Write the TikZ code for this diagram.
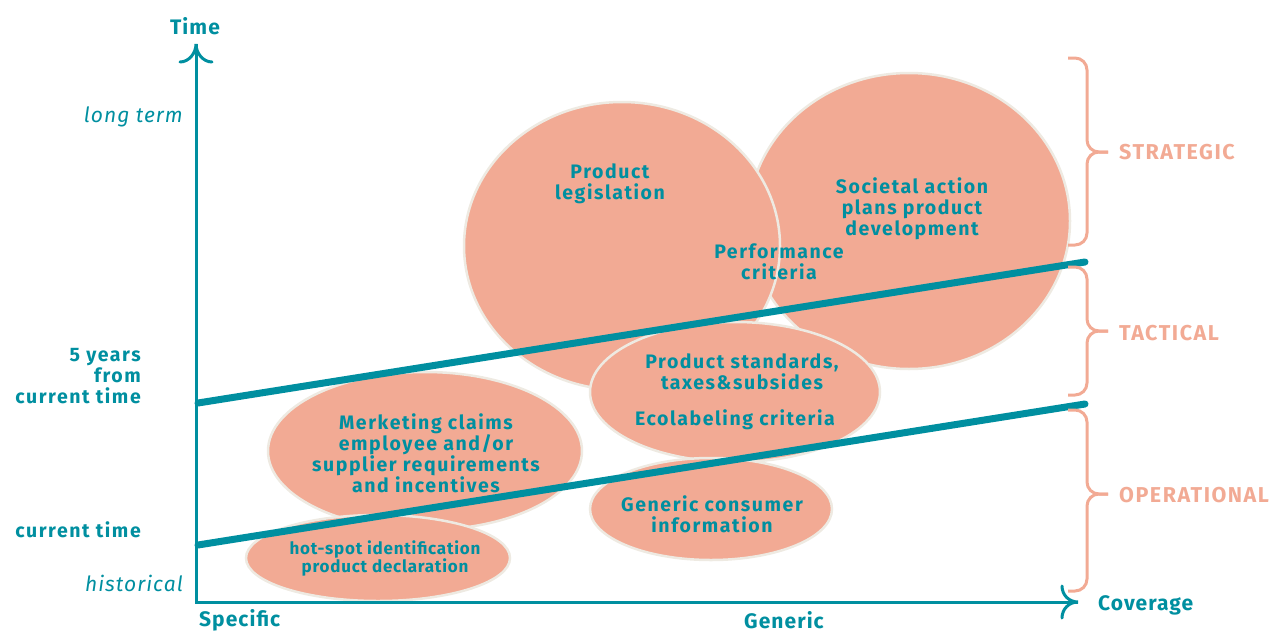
\documentclass[tikz,border=0pt]{standalone}
\usepackage{fontspec}
\setmainfont{Fira Sans}
\usetikzlibrary{shapes.geometric}
\definecolor{tealc}{HTML}{008FA0}
\definecolor{salmon}{HTML}{F2AA94}
\definecolor{rim}{HTML}{EEEAE2}
\begin{document}
\begin{tikzpicture}[x=1pt,y=-1pt,
  blob/.style={ellipse, draw=rim, line width=2.5pt, fill=salmon, inner sep=0pt},
  lbl/.style={text=tealc, font=\bfseries\fontsize{19.5}{21}\selectfont\addfontfeatures{LetterSpace=8}, align=center, inner sep=0pt},
  small/.style={text=tealc, font=\bfseries\fontsize{17}{18}\selectfont\addfontfeatures{LetterSpace=4.5}, align=center, inner sep=0pt},
  axlbl/.style={text=tealc, font=\bfseries\fontsize{21}{21}\selectfont\addfontfeatures{LetterSpace=5}, inner sep=0pt},
  ital/.style={text=tealc, font=\itshape\fontsize{21}{21}\selectfont\addfontfeatures{LetterSpace=5}, inner sep=0pt, anchor=east},
  axisline/.style={draw=tealc, line width=3pt},
  band/.style={draw=tealc, line width=7pt, line cap=round},
  bracestyle/.style={draw=salmon, line width=3pt, rounded corners=12pt},
  tier/.style={text=salmon, font=\bfseries\fontsize{21.5}{22}\selectfont\addfontfeatures{LetterSpace=7}, anchor=west, inner sep=0pt}]
\useasboundingbox (0,0) rectangle (1277,632);

% ellipses
\node[blob, minimum width=322pt, minimum height=296pt] (soc) at (909,221) {};
\node[blob, minimum width=316pt, minimum height=288pt] (leg) at (622,246) {};
\node[blob, minimum width=290pt, minimum height=140pt] (std) at (735,392) {};
\node[blob, minimum width=314pt, minimum height=158pt] (mkt) at (425,451) {};
\node[blob, minimum width=242pt, minimum height=102pt] (gen) at (711,509) {};
\node[blob, minimum width=264pt, minimum height=86pt] (hot) at (378,558) {};

% bands
\coordinate (u1) at (198,403); \coordinate (u2) at (1085,262);
\coordinate (l1) at (198,545); \coordinate (l2) at (1085,404);
\draw[band] (u1) -- (u2);
\draw[band] (l1) -- (l2);

% axes
\coordinate (o) at (196,602);
\coordinate (ytip) at (196,44);
\coordinate (xtip) at (1078,602);
\draw[axisline] (ytip) -- (o) -- (xtip);
\draw[axisline, line cap=round] (180,62) .. controls (189,62) and (196,53) .. (ytip) .. controls (196,53) and (203,62) .. (212,62);
\draw[axisline, line cap=round] (1062,586) .. controls (1062,595) and (1069,602) .. (xtip) .. controls (1069,602) and (1062,609) .. (1062,618);

% axis labels
\node[axlbl] (time) at (195,26) {Time};
\node[axlbl, anchor=west] (cov) at (1098,605) {Coverage};
\node[axlbl, anchor=west] (spec) at (199,620) {Specific};
\node[axlbl] (genr) at (784,620) {Generic};
\node[ital] (lt) at (183,117) {long term};
\node[ital] (hist) at (183,583) {historical};
\node[lbl, anchor=east, align=right] (five) at (141,376) {5 years\\from\\current time};
\node[lbl, anchor=east] (cur) at (141,530) {current time};

% ellipse texts
\node[lbl] (legt) at (610,184) {Product\\legislation};
\node[lbl] (perft) at (779,262) {Performance\\criteria};
\node[lbl] (soct) at (912,209) {Societal action\\plans product\\development};
\node[lbl] (stdt) at (742,372) {Product standards,\\taxes\&subsides};
\node[lbl] (ecot) at (735,420) {Ecolabeling criteria};
\node[lbl] (mktt) at (426,453) {Merketing claims\\employee and/or\\supplier requirements\\and incentives};
\node[lbl] (gent) at (712,514) {Generic consumer\\information};
\node[small] (hott) at (385,558) {hot-spot identification\\product declaration};

% braces
\draw[bracestyle] (1068,58) -- (1087,58) -- (1087,152) -- (1108,152);
\draw[bracestyle] (1108,152) -- (1087,152) -- (1087,245) -- (1068,245);
\draw[bracestyle] (1068,267) -- (1087,267) -- (1087,331) -- (1108,331);
\draw[bracestyle] (1108,331) -- (1087,331) -- (1087,395) -- (1068,395);
\draw[bracestyle] (1068,410) -- (1087,410) -- (1087,494) -- (1108,494);
\draw[bracestyle] (1108,494) -- (1087,494) -- (1087,591) -- (1068,591);
\node[tier] (strat) at (1119,152) {STRATEGIC};
\node[tier] (tact) at (1119,333) {TACTICAL};
\node[tier] (oper) at (1119,495) {OPERATIONAL};
\end{tikzpicture}
\end{document}
